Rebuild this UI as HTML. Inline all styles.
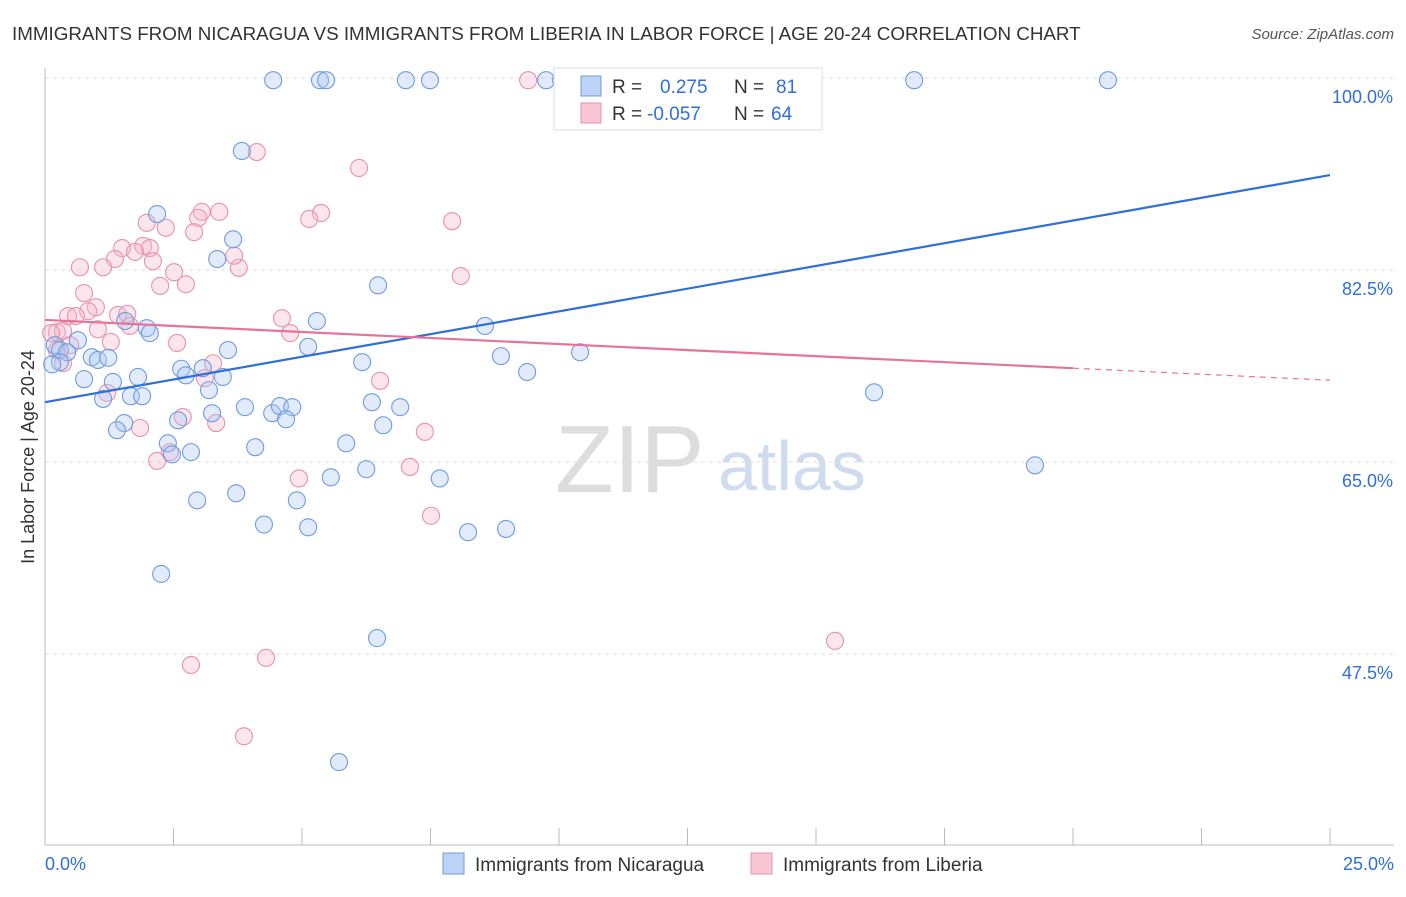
<!DOCTYPE html>
<html><head><meta charset="utf-8"><style>
body{margin:0;background:#fff;font-family:"Liberation Sans",sans-serif;}
svg text{font-family:"Liberation Sans",sans-serif;}
</style></head><body>
<svg id="chart" width="1406" height="892">
<text x="12" y="40" font-size="18.8" fill="#333">IMMIGRANTS FROM NICARAGUA VS IMMIGRANTS FROM LIBERIA IN LABOR FORCE | AGE 20-24 CORRELATION CHART</text>
<text x="1394" y="39" font-size="15" fill="#555" font-style="italic" text-anchor="end">Source: ZipAtlas.com</text>
<text x="34" y="457" font-size="18" fill="#333" text-anchor="middle" transform="rotate(-90 34 457)">In Labor Force | Age 20-24</text>
<text x="555" y="492" font-size="96" fill="#ddd" font-family="Liberation Serif">ZIP</text>
<text x="718" y="490" font-size="70" fill="#cfdcf0">atlas</text>
<g id="grid"></g><g id="axes"></g><g id="pts"></g><g id="trend"></g>
<g>
<rect x="554" y="68" width="268" height="62" fill="#fff" stroke="#ddd"/>
<rect x="581" y="76" width="20" height="20" fill="#bcd3f5" stroke="#6f9be0"/>
<rect x="581" y="103" width="20" height="20" fill="#f9c6d6" stroke="#e890ad"/>
<text x="612" y="93" font-size="19" fill="#333">R = </text><text x="660" y="93" font-size="19" fill="#2f6fd6">0.275</text>
<text x="734" y="93" font-size="19" fill="#333">N = </text><text x="776" y="93" font-size="19" fill="#2f6fd6">81</text>
<text x="612" y="120" font-size="19" fill="#333">R = </text><text x="647" y="120" font-size="19" fill="#2f6fd6">-0.057</text>
<text x="734" y="120" font-size="19" fill="#333">N = </text><text x="771" y="120" font-size="19" fill="#2f6fd6">64</text>
</g>
<g>
<rect x="443" y="853" width="21" height="21" fill="#bcd3f5" stroke="#6f9be0"/>
<text x="475" y="871" font-size="19" fill="#333">Immigrants from Nicaragua</text>
<rect x="751" y="853" width="21" height="21" fill="#f9c6d6" stroke="#e890ad"/>
<text x="783" y="871" font-size="19" fill="#333">Immigrants from Liberia</text>
</g>
</svg>
<script>
const xTicks=[0,2.5,5,7.5,10,12.5,15,17.5,20,22.5,25];
const yTicks=[47.5,65,82.5,100];
const yTickLabels=["47.5%","65.0%","82.5%","100.0%"];
const xEndLabels=["0.0%","25.0%"];
const blueX=[4.44,5.35,5.47,7.02,7.49,9.75,10.04,16.91,20.68,10.66,3.83,2.18,3.66,3.35,6.48,1.56,1.98,2.04,5.29,8.56,0.64,0.19,0.29,0.43,0.91,1.03,1.23,0.29,0.14,3.56,5.12,8.87,10.41,6.17,9.38,16.13,0.76,1.32,1.81,2.65,2.74,3.07,3.46,3.19,1.13,1.67,1.89,3.89,4.42,4.57,4.81,4.69,3.25,2.59,1.54,1.40,6.36,6.91,6.58,2.39,2.47,2.84,4.09,5.86,5.56,6.25,7.68,3.72,2.96,4.90,4.26,5.12,8.23,8.97,2.26,6.46,5.72,19.26];
const blueY=[99.8,99.8,99.8,99.8,99.8,99.8,99.8,99.8,99.8,99.45,93.35,87.6,85.3,83.5,81.1,77.85,77.2,76.75,77.85,77.4,76.1,75.65,75.2,75.0,74.55,74.3,74.5,74.1,73.9,75.2,75.5,74.65,75.0,74.1,73.2,71.35,72.55,72.3,72.75,73.5,72.9,73.55,72.75,71.55,70.75,71.0,71.0,70.0,69.45,70.1,70.0,68.9,69.45,68.8,68.55,67.9,70.45,70.0,68.35,66.7,65.7,65.9,66.35,66.7,63.6,64.35,63.5,62.15,61.5,61.5,59.3,59.05,58.6,58.9,54.8,48.95,37.65,64.7];
const pinkX=[9.40,13.21,4.12,6.11,7.92,5.37,5.14,3.05,3.39,2.98,1.98,2.35,2.90,1.91,2.04,1.50,1.75,1.36,2.10,0.68,1.13,3.77,3.68,2.51,8.09,2.24,2.74,0.76,0.99,0.84,1.42,1.60,0.45,0.60,4.61,1.65,4.77,1.03,0.23,0.35,0.12,1.28,2.57,0.49,0.23,3.27,3.11,6.52,1.21,2.68,3.33,1.85,7.39,2.43,2.18,7.10,4.94,7.51,2.84,4.30,15.37,3.87,0.35];
const pinkY=[99.8,99.8,93.25,91.8,86.95,87.7,87.15,87.8,87.8,87.25,86.8,86.35,85.95,84.7,84.5,84.5,84.15,83.5,83.3,82.75,82.75,82.7,83.8,82.3,81.95,81.05,81.2,80.4,79.1,78.75,78.4,78.5,78.3,78.3,78.1,77.4,76.75,77.1,76.85,76.95,76.75,75.95,75.85,75.65,75.2,74.0,72.65,72.4,71.3,69.1,68.55,68.1,67.75,65.9,65.1,64.55,63.5,60.1,46.5,47.15,48.7,40.0,74.0];
const blueTrend=[70.45,91.15];
const pinkTrend=[77.95,72.45];
const pinkSolidEnd=20;
const NS="http://www.w3.org/2000/svg";
const X0=45,X1=1330;
const sx=v=>X0+(v/25)*(X1-X0);
const sy=v=>78+(100-v)*192/17.5;
function mk(tag,attrs,parent){const e=document.createElementNS(NS,tag);for(const k in attrs)e.setAttribute(k,attrs[k]);document.getElementById(parent).appendChild(e);return e;}
yTicks.forEach((t,i)=>{
 const l=mk('line',{x1:X0,x2:1394,y1:sy(t),y2:sy(t),stroke:'#ddd','stroke-dasharray':'4,4'},'grid');
 
 
 const tx=mk('text',{x:1393,y:sy(t)+25,'font-size':18,fill:'#2f6fd6','text-anchor':'end'},'grid');
 tx.textContent=yTickLabels[i];
 
 
});
const ax=mk('line',{x1:X0,x2:X0,y1:68,y2:845,stroke:'#bbb'},'axes');


const bx=mk('line',{x1:X0,x2:1394,y1:845,y2:845,stroke:'#bbb'},'axes');


xTicks.forEach(t=>{
 const l=mk('line',{x1:sx(t),x2:sx(t),y1:828,y2:845,stroke:'#bbb'},'axes');
 
 
});
[[0,'start',45],[25,'end',1394]].forEach((d,i)=>{
 const tx=mk('text',{x:d[2],y:870,'font-size':18,fill:'#2f6fd6','text-anchor':d[1]},'axes');
 tx.textContent=xEndLabels[i];
 
 
});
function dots(xs,ys,fill,stroke,name){
 xs.forEach((x,i)=>{
  const c=mk('circle',{cx:sx(x),cy:sy(ys[i]),r:8.5,fill:fill,'fill-opacity':0.35,stroke:stroke,'stroke-width':1.1},'pts');
  
  
 });
}
dots(pinkX,pinkY,'#f7b8cc','#e890ad','liberia-point');
dots(blueX,blueY,'#a9c6f2','#6f9be0','nicaragua-point');
const bl=mk('line',{x1:sx(0),y1:sy(blueTrend[0]),x2:sx(25),y2:sy(blueTrend[1]),stroke:'#2f6fd6','stroke-width':2.2},'trend');


const py=x=>pinkTrend[0]+(pinkTrend[1]-pinkTrend[0])*x/25;
const pl=mk('line',{x1:sx(0),y1:sy(py(0)),x2:sx(pinkSolidEnd),y2:sy(py(pinkSolidEnd)),stroke:'#e8729a','stroke-width':2.2},'trend');


const pd=mk('line',{x1:sx(pinkSolidEnd),y1:sy(py(pinkSolidEnd)),x2:sx(25),y2:sy(py(25)),stroke:'#e8729a','stroke-width':1.2,'stroke-dasharray':'6,5'},'trend');


</script>
</body></html>
